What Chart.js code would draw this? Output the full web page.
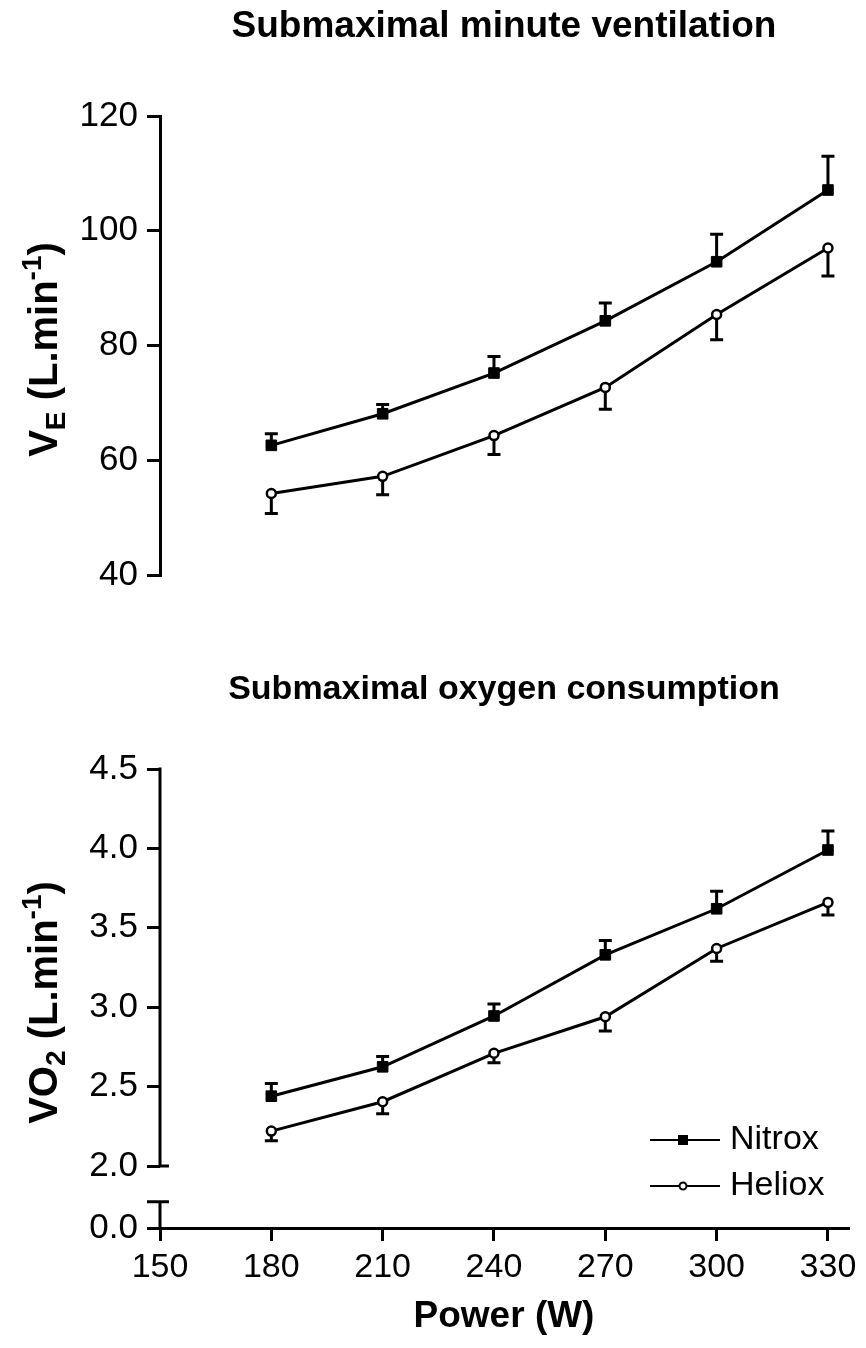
<!DOCTYPE html>
<html>
<head>
<meta charset="utf-8">
<script src="https://cdn.jsdelivr.net/npm/chart.js@4.4.1/dist/chart.umd.min.js"></script>
<style>
  html, body { margin: 0; padding: 0; background: #fff; }
  #wrap { position: relative; width: 866px; height: 1348px; }
  .box { position: absolute; left: 0; width: 866px; }
  #topBox { top: 0; height: 620px; }
  #bottomBox { top: 620px; height: 728px; }
</style>
</head>
<body>
<div id="wrap">
  <div class="box" id="topBox"><canvas id="veChart"></canvas></div>
  <div class="box" id="bottomBox"><canvas id="vo2Chart"></canvas></div>
</div>
<script>
// dados
const powerLevels = [180, 210, 240, 270, 300, 330];
const powerTicks = [150, 180, 210, 240, 270, 300, 330];

const veNitrox = [62.6, 68.1, 75.2, 84.3, 94.6, 107.1];
const veNitroxSem = [2.0, 1.6, 2.9, 3.1, 4.8, 5.9];
const veHeliox = [54.2, 57.2, 64.3, 72.7, 85.4, 97.0];
const veHelioxSem = [3.5, 3.2, 3.3, 3.8, 4.4, 4.9];
const veTicks = [40, 60, 80, 100, 120];

const vo2Nitrox = [2.44, 2.625, 2.945, 3.33, 3.62, 3.99];
const vo2NitroxSem = [0.08, 0.065, 0.075, 0.09, 0.11, 0.12];
const vo2Heliox = [2.22, 2.405, 2.71, 2.94, 3.37, 3.66];
const vo2HelioxSem = [0.06, 0.075, 0.06, 0.09, 0.08, 0.08];
const vo2Ticks = [2.0, 2.5, 3.0, 3.5, 4.0, 4.5];

// eixo quebrado: onde fica o "0.0" e o topo do pedaço de baixo
const vo2AxisZero = 1.61;
const vo2BreakCap = 1.775;

const FONT = 'Arial, "Liberation Sans", Helvetica, sans-serif';

function points(values) {
  return powerLevels.map((p, i) => ({ x: p, y: values[i] }));
}

function makeDatasets(nitrox, nitroxSem, heliox, helioxSem) {
  return [{
    label: 'Nitrox',
    data: points(nitrox),
    sem: nitroxSem,
    errDir: 1,
    borderColor: '#000',
    borderWidth: 3,
    pointStyle: 'rect',
    pointRadius: 7.5,
    pointBorderWidth: 1,
    pointBackgroundColor: '#000',
    pointBorderColor: '#000',
    tension: 0
  }, {
    label: 'Heliox',
    data: points(heliox),
    sem: helioxSem,
    errDir: -1,
    borderColor: '#000',
    borderWidth: 3,
    pointStyle: 'circle',
    pointRadius: 4.5,
    pointBorderWidth: 2.5,
    pointBackgroundColor: '#fff',
    pointBorderColor: '#000',
    tension: 0
  }];
}

// barras de erro (só um lado, como na figura)
const errorBars = {
  id: 'errorBars',
  beforeDatasetsDraw(chart) {
    const { ctx, scales: { x, y } } = chart;
    ctx.save();
    ctx.strokeStyle = '#000';
    ctx.lineWidth = 3;
    chart.data.datasets.forEach(ds => {
      ds.data.forEach((pt, i) => {
        const px = x.getPixelForValue(pt.x);
        const y0 = y.getPixelForValue(pt.y);
        const y1 = y.getPixelForValue(pt.y + ds.sem[i] * ds.errDir);
        ctx.beginPath();
        ctx.moveTo(px, y0);
        ctx.lineTo(px, y1);
        ctx.moveTo(px - 6.5, y1);
        ctx.lineTo(px + 6.5, y1);
        ctx.stroke();
      });
    });
    ctx.restore();
  }
};

// título do eixo y com subscrito / sobrescrito
function drawAxisTitle(ctx, parts, cx, cy, size) {
  ctx.save();
  ctx.translate(cx, cy);
  ctx.rotate(-Math.PI / 2);
  ctx.fillStyle = '#000';
  ctx.textBaseline = 'alphabetic';
  const fontFor = p => 'bold ' + (p.s ? size * 0.7 : size) + 'px ' + FONT;
  let total = 0;
  parts.forEach(p => {
    ctx.font = fontFor(p);
    p.w = ctx.measureText(p.t).width;
    total += p.w;
  });
  let x = -total / 2;
  const base = size * 0.36;
  parts.forEach(p => {
    ctx.font = fontFor(p);
    const dy = p.s === 'sub' ? size * 0.2 : p.s === 'sup' ? -size * 0.42 : 0;
    ctx.fillText(p.t, x, base + dy);
    x += p.w;
  });
  ctx.restore();
}

const yTitle = {
  id: 'yTitle',
  afterDraw(chart, args, opts) {
    const { ctx, chartArea } = chart;
    const mid = (chartArea.top + chartArea.bottom) / 2 + 4;
    drawAxisTitle(ctx, opts.parts, 43, mid, 40);
  }
};

// eixo y quebrado do gráfico de VO2
const brokenAxis = {
  id: 'brokenAxis',
  afterDraw(chart) {
    const { ctx, chartArea, scales: { y } } = chart;
    const x0 = chartArea.left;
    const top = y.getPixelForValue(vo2Ticks[vo2Ticks.length - 1]);
    const low = y.getPixelForValue(vo2Ticks[0]);
    const zero = y.getPixelForValue(vo2AxisZero);
    const cap = y.getPixelForValue(vo2BreakCap);
    ctx.save();
    ctx.strokeStyle = '#000';
    ctx.lineWidth = 3;
    ctx.beginPath();
    ctx.moveTo(x0, top - 1.5);
    ctx.lineTo(x0, low);
    ctx.moveTo(x0, low);
    ctx.lineTo(x0 + 9, low);
    ctx.moveTo(x0, cap);
    ctx.lineTo(x0, zero);
    ctx.moveTo(x0 - 13, cap);
    ctx.lineTo(x0 + 9, cap);
    ctx.stroke();
    ctx.restore();
  }
};

// legenda dentro da área do gráfico, embaixo à direita
const cornerLegend = {
  id: 'cornerLegend',
  afterDraw(chart) {
    const { ctx, chartArea } = chart;
    ctx.save();
    chart.data.datasets.forEach((ds, i) => {
      const y = chartArea.bottom - 88 + i * 46;
      const xl = chartArea.right - 198;
      ctx.strokeStyle = '#000';
      ctx.lineWidth = 2;
      ctx.beginPath();
      ctx.moveTo(xl, y);
      ctx.lineTo(xl + 70, y);
      ctx.stroke();
      const mx = xl + 33;
      if (ds.pointStyle === 'rect') {
        ctx.fillStyle = '#000';
        ctx.fillRect(mx - 5, y - 5, 10, 10);
      } else {
        ctx.fillStyle = '#fff';
        ctx.lineWidth = 2;
        ctx.beginPath();
        ctx.arc(mx, y, 3.5, 0, Math.PI * 2);
        ctx.fill();
        ctx.stroke();
      }
      ctx.fillStyle = '#000';
      ctx.font = '34px ' + FONT;
      ctx.textBaseline = 'middle';
      ctx.textAlign = 'left';
      ctx.fillText(ds.label, xl + 80, y);
    });
    ctx.restore();
  }
};

const axisBlack = { color: '#000', width: 3 };
const tickGrid = { drawOnChartArea: false, tickLength: 13, lineWidth: 3, color: '#000' };

Chart.defaults.font.family = FONT;
Chart.defaults.color = '#000';

new Chart(document.getElementById('veChart'), {
  type: 'line',
  data: { datasets: makeDatasets(veNitrox, veNitroxSem, veHeliox, veHelioxSem) },
  options: {
    responsive: true,
    maintainAspectRatio: false,
    animation: false,
    layout: { padding: { left: 0, right: 18, top: 0, bottom: 45 } },
    plugins: {
      legend: { display: false },
      tooltip: { enabled: false },
      title: {
        display: true,
        fullSize: false,
        text: 'Submaximal minute ventilation',
        font: { size: 37, weight: 'bold' },
        color: '#000',
        padding: { top: 4.8, bottom: 66.8 }
      },
      yTitle: {
        parts: [{ t: 'V' }, { t: 'E', s: 'sub' }, { t: ' (L.min' }, { t: '-1', s: 'sup' }, { t: ')' }]
      }
    },
    scales: {
      x: { type: 'linear', min: 150, max: 335.4, display: false },
      y: {
        min: veTicks[0],
        max: veTicks[veTicks.length - 1],
        afterBuildTicks: s => { s.ticks = veTicks.map(v => ({ value: v })); },
        afterFit: s => { s.width = 160; },
        border: axisBlack,
        grid: tickGrid,
        ticks: { font: { size: 35 }, color: '#000', padding: 9 }
      }
    }
  },
  plugins: [errorBars, yTitle]
});

new Chart(document.getElementById('vo2Chart'), {
  type: 'line',
  data: { datasets: makeDatasets(vo2Nitrox, vo2NitroxSem, vo2Heliox, vo2HelioxSem) },
  options: {
    responsive: true,
    maintainAspectRatio: false,
    animation: false,
    layout: { padding: { left: 0, right: 18, top: 0, bottom: 9 } },
    plugins: {
      legend: { display: false },
      tooltip: { enabled: false },
      title: {
        display: true,
        fullSize: false,
        text: 'Submaximal oxygen consumption',
        font: { size: 34, weight: 'bold' },
        color: '#000',
        padding: { top: 49.6, bottom: 58.6 }
      },
      yTitle: {
        parts: [{ t: 'VO' }, { t: '2', s: 'sub' }, { t: ' (L.min' }, { t: '-1', s: 'sup' }, { t: ')' }]
      }
    },
    scales: {
      x: {
        type: 'linear',
        min: 150,
        max: 335.4,
        afterBuildTicks: s => { s.ticks = powerTicks.map(v => ({ value: v })); },
        afterFit: s => { s.height = 111; },
        border: axisBlack,
        grid: tickGrid,
        ticks: { font: { size: 34 }, color: '#000', padding: 6 },
        title: {
          display: true,
          text: 'Power (W)',
          font: { size: 37, weight: 'bold' },
          color: '#000',
          padding: { top: 0, bottom: 0 }
        }
      },
      y: {
        min: vo2AxisZero,
        max: vo2Ticks[vo2Ticks.length - 1],
        afterBuildTicks: s => { s.ticks = [vo2AxisZero].concat(vo2Ticks).map(v => ({ value: v })); },
        afterFit: s => { s.width = 160; },
        border: { display: false },
        grid: tickGrid,
        ticks: {
          font: { size: 35 },
          color: '#000',
          padding: 9,
          callback: v => (v === vo2AxisZero ? '0.0' : v.toFixed(1))
        }
      }
    }
  },
  plugins: [errorBars, yTitle, brokenAxis, cornerLegend]
});
</script>
</body>
</html>
